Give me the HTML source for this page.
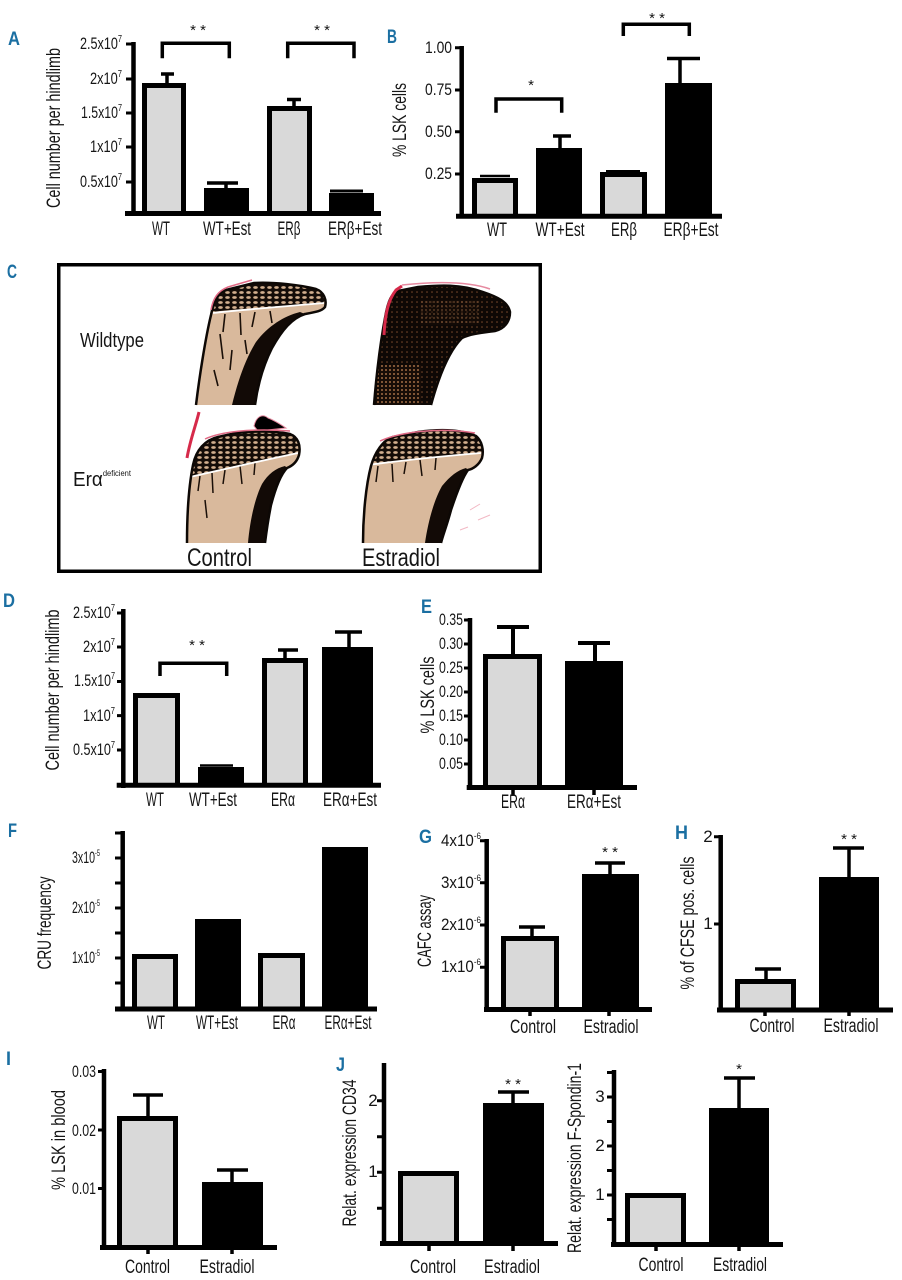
<!DOCTYPE html>
<html><head><meta charset="utf-8"><style>
html,body{margin:0;padding:0;background:#fff;}
svg{display:block}
text{font-family:"Liberation Sans",sans-serif;fill:#151515}
.tk{font-size:17px}
.lb{font-size:19px}
.st{font-size:15px}
.L{font-size:19px;font-weight:bold;fill:#1b6fa2}
</style></head><body>
<svg width="902" height="1280" viewBox="0 0 902 1280" xmlns="http://www.w3.org/2000/svg">
<defs>
<pattern id="trab" width="7" height="5" patternUnits="userSpaceOnUse"><rect width="7" height="5" fill="#140c08"/><ellipse cx="3.5" cy="2.5" rx="2.3" ry="1.4" fill="#d2ae8e"/></pattern>
<pattern id="dark" width="5" height="5" patternUnits="userSpaceOnUse"><rect width="5" height="5" fill="#0e0805"/><circle cx="2" cy="2" r="0.8" fill="#7a4a2c"/></pattern>
<pattern id="brn" width="4" height="4" patternUnits="userSpaceOnUse"><rect width="4" height="4" fill="#160c07"/><circle cx="2" cy="2" r="1" fill="#a06c44"/></pattern>
<clipPath id="cTL"><path d="M196,405 C199,380 205,340 211,315 C214,300 219,292 226,290 L254,283 C275,282 300,285 316,289 C324,292 327,300 325,307 C322,311 316,312 305,314 C292,318 282,330 272,348 C262,368 257,390 255,405 Z"/></clipPath>
<clipPath id="cTR"><path d="M374,405 C376,380 379,350 385,318 C388,300 392,293 398,291 L418,287 C440,285 460,284 483,292 C498,297 508,302 510,312 C510,322 504,329 495,331 C480,333 470,334 462,338 C450,350 440,372 431,405 Z"/></clipPath>
<clipPath id="cBL"><path d="M187,543 C187,515 189,485 193,465 C196,450 205,440 218,437 L236,433 C255,431 275,431 290,434 C298,437 301,445 299,455 C297,462 292,466 287,468 C280,475 275,490 271,505 C268,520 266,535 265,543 Z"/></clipPath>
<clipPath id="cBR"><path d="M363,543 C363,515 366,485 371,466 C375,452 383,440 393,437 L418,432 C440,429 460,429 476,436 C482,441 484,450 482,458 C479,465 473,469 468,470 C462,478 456,495 451,510 C447,525 443,535 441,543 Z"/></clipPath>
</defs>

<!-- ============ PANEL A ============ -->
<text class="L" x="8" y="45" textLength="12" lengthAdjust="spacingAndGlyphs">A</text>
<text class="lb" transform="translate(60,128) rotate(-90)" text-anchor="middle" textLength="160" lengthAdjust="spacingAndGlyphs">Cell number per hindlimb</text>
<g class="tk" text-anchor="end">
<text x="122" y="49" textLength="42" lengthAdjust="spacingAndGlyphs">2.5x10<tspan font-size="10" dy="-7">7</tspan></text>
<text x="122" y="84" textLength="32" lengthAdjust="spacingAndGlyphs">2x10<tspan font-size="10" dy="-7">7</tspan></text>
<text x="122" y="118" textLength="41" lengthAdjust="spacingAndGlyphs">1.5x10<tspan font-size="10" dy="-7">7</tspan></text>
<text x="122" y="152" textLength="32" lengthAdjust="spacingAndGlyphs">1x10<tspan font-size="10" dy="-7">7</tspan></text>
<text x="122" y="187" textLength="42" lengthAdjust="spacingAndGlyphs">0.5x10<tspan font-size="10" dy="-7">7</tspan></text>
</g>
<rect x="142" y="83" width="44" height="128" fill="#000"/><rect x="147" y="88" width="34" height="123" fill="#d9d9d9"/>
<rect x="204" y="188" width="45" height="23" fill="#000"/>
<rect x="267" y="106" width="45" height="105" fill="#000"/><rect x="272" y="111" width="35" height="100" fill="#d9d9d9"/>
<rect x="329" y="193" width="45" height="18" fill="#000"/>
<g stroke="#000" fill="none">
<line x1="133.5" y1="42" x2="133.5" y2="216" stroke-width="4.5"/>
<line x1="125" y1="213.5" x2="381" y2="213.5" stroke-width="5"/>
<path d="M126,44H133M126,79H133M126,113H133M126,147H133M126,182H133" stroke-width="3"/>
<path d="M167,74V84M161,74H174" stroke-width="3.5"/>
<path d="M226,183V189M207,183H238" stroke-width="3.5"/>
<path d="M294,99.5V107M287,99.5H301" stroke-width="3.5"/>
<path d="M330,191H363" stroke-width="3"/>
<path d="M162.3,58.3V43.3H229.3V58.3" stroke-width="3.5"/>
<path d="M287.7,58.3V43.3H354V58.3" stroke-width="3.5"/>
</g>
<text class="st" x="198" y="35" text-anchor="middle">* *</text>
<text class="st" x="322" y="35" text-anchor="middle">* *</text>
<g class="lb" text-anchor="middle">
<text x="161" y="235" textLength="18" lengthAdjust="spacingAndGlyphs">WT</text>
<text x="227" y="235" textLength="48" lengthAdjust="spacingAndGlyphs">WT+Est</text>
<text x="289" y="235" textLength="23" lengthAdjust="spacingAndGlyphs">ERβ</text>
<text x="355" y="235" textLength="54" lengthAdjust="spacingAndGlyphs">ERβ+Est</text>
</g>

<!-- ============ PANEL B ============ -->
<text class="L" x="387" y="43" textLength="10" lengthAdjust="spacingAndGlyphs">B</text>
<text class="lb" transform="translate(406,120) rotate(-90)" text-anchor="middle" textLength="74" lengthAdjust="spacingAndGlyphs">% LSK cells</text>
<g class="tk" text-anchor="end">
<text x="452" y="53" textLength="27" lengthAdjust="spacingAndGlyphs">1.00</text>
<text x="452" y="95" textLength="27" lengthAdjust="spacingAndGlyphs">0.75</text>
<text x="452" y="137" textLength="27" lengthAdjust="spacingAndGlyphs">0.50</text>
<text x="452" y="179" textLength="27" lengthAdjust="spacingAndGlyphs">0.25</text>
</g>
<rect x="472" y="178" width="46" height="36" fill="#000"/><rect x="477" y="183" width="36" height="31" fill="#d9d9d9"/>
<rect x="536" y="148" width="46" height="66" fill="#000"/>
<rect x="600" y="172" width="47" height="42" fill="#000"/><rect x="605" y="177" width="37" height="37" fill="#d9d9d9"/>
<rect x="665" y="83" width="47" height="131" fill="#000"/>
<g stroke="#000" fill="none">
<line x1="461.7" y1="46" x2="461.7" y2="218" stroke-width="4.5"/>
<line x1="456" y1="216.3" x2="722" y2="216.3" stroke-width="5"/>
<path d="M455,47.7H462M455,90H462M455,131.7H462M455,174H462" stroke-width="3"/>
<path d="M480,176H510" stroke-width="2.5"/>
<path d="M560,136V149M553,136H571" stroke-width="3.5"/>
<path d="M606,171H640" stroke-width="2"/>
<path d="M680,58.5V84M667,58.5H700" stroke-width="3.5"/>
<path d="M496,112.7V99H561.7V112.7" stroke-width="3.5"/>
<path d="M623.3,36V24.3H689.3V36" stroke-width="3.5"/>
</g>
<text class="st" x="531" y="90" text-anchor="middle">*</text>
<text class="st" x="657" y="23" text-anchor="middle">* *</text>
<g class="lb" text-anchor="middle">
<text x="497" y="236" textLength="20" lengthAdjust="spacingAndGlyphs">WT</text>
<text x="560" y="236" textLength="49" lengthAdjust="spacingAndGlyphs">WT+Est</text>
<text x="624" y="236" textLength="26" lengthAdjust="spacingAndGlyphs">ERβ</text>
<text x="691" y="236" textLength="55" lengthAdjust="spacingAndGlyphs">ERβ+Est</text>
</g>

<!-- ============ PANEL C ============ -->
<text class="L" x="7" y="278" textLength="10" lengthAdjust="spacingAndGlyphs">C</text>
<rect x="58.75" y="264.75" width="481.5" height="306.5" fill="#fff" stroke="#000" stroke-width="3.5"/>
<text x="80" y="347" font-size="20" textLength="64" lengthAdjust="spacingAndGlyphs">Wildtype</text>
<text x="73" y="486" font-size="20" textLength="58" lengthAdjust="spacingAndGlyphs">Erα<tspan font-size="8" dy="-10">deficient</tspan></text>
<text x="187" y="566" font-size="25" textLength="65" lengthAdjust="spacingAndGlyphs">Control</text>
<text x="362" y="566" font-size="25" textLength="78" lengthAdjust="spacingAndGlyphs">Estradiol</text>

<!-- TL bone -->
<g clip-path="url(#cTL)">
<rect x="185" y="275" width="150" height="135" fill="#d9b99c"/>
<path d="M185,270H335V303L323,303.6C290,305 250,308 200,313Z" fill="url(#trab)"/>
<path d="M305,314 C292,318 282,330 272,348 C262,368 257,390 255,405 L232,405 C238,380 246,358 256,342 C268,326 284,316 300,312 Z" fill="#120a06"/>
<path d="M225,314l-2,18M240,313l1,22M255,312l-3,15M270,311l2,12M220,334l3,25M232,350l-2,20M245,340l2,14M214,370l4,16" stroke="#1a0f08" stroke-width="1.6"/>
<path d="M213,313C250,309 290,306 324,303" stroke="#fff" stroke-width="1.8" fill="none"/>
</g>
<path d="M196,405 C199,380 205,340 211,315 C214,300 219,292 226,290 L254,283 C275,282 300,285 316,289 C324,292 327,300 325,307 C322,311 316,312 305,314 C292,318 282,330 272,348 C262,368 257,390 255,405" fill="none" stroke="#0d0805" stroke-width="2.5"/>
<path d="M211,310C213,298 218,291 228,287L252,280" fill="none" stroke="#e06a85" stroke-width="1.5"/>

<!-- TR bone -->
<g clip-path="url(#cTR)">
<rect x="370" y="280" width="145" height="130" fill="url(#dark)"/>
<rect x="376" y="365" width="45" height="45" fill="url(#brn)"/>
<rect x="420" y="300" width="60" height="25" fill="url(#brn)" opacity="0.5"/>
</g>
<path d="M374,405 C376,380 379,350 385,318 C388,300 392,293 398,291 L418,287 C440,285 460,284 483,292 C498,297 508,302 510,312 C510,322 504,329 495,331 C480,333 470,334 462,338 C450,350 440,372 431,405" fill="none" stroke="#0d0805" stroke-width="2.5"/>
<path d="M384,335C385,315 388,300 396,290L402,286" fill="none" stroke="#d62a4a" stroke-width="3"/>
<path d="M402,285C440,281 470,282 490,289" fill="none" stroke="#e68aa0" stroke-width="1.5"/>

<!-- BL bone -->
<path d="M199,412C196,425 190,440 187,458" fill="none" stroke="#d62a4a" stroke-width="3"/>
<path d="M254,426C256,417 262,413 268,418C274,420 280,424 286,428L258,431Z" fill="#000" stroke="#e68aa0" stroke-width="1"/>
<g clip-path="url(#cBL)">
<rect x="180" y="425" width="130" height="125" fill="#d9b99c"/>
<path d="M180,425H305V453L298,453.2C260,461 225,469 190,477Z" fill="url(#trab)"/>
<path d="M287,468 C280,475 275,490 271,505 C268,520 266,535 265,543 L248,543 C250,520 255,498 262,484 C268,474 276,468 285,466 Z" fill="#120a06"/>
<path d="M200,476l-2,15M212,473l1,20M225,470l-2,14M240,466l2,18M255,463l-1,12M205,500l2,18" stroke="#1a0f08" stroke-width="1.5"/>
<path d="M190,477C225,469 260,461 298,453" stroke="#fff" stroke-width="1.8" fill="none"/>
</g>
<path d="M187,543 C187,515 189,485 193,465 C196,450 205,440 218,437 L236,433 C255,431 275,431 290,434 C298,437 301,445 299,455 C297,462 292,466 287,468 C280,475 275,490 271,505 C268,520 266,535 265,543" fill="none" stroke="#0d0805" stroke-width="2.5"/>
<path d="M205,439C220,432 250,428 290,431" fill="none" stroke="#e06a85" stroke-width="1.5"/>

<!-- BR bone -->
<g clip-path="url(#cBR)">
<rect x="355" y="420" width="135" height="130" fill="#d9b99c"/>
<path d="M355,420H490V452L480,453C445,456 405,460 368,465Z" fill="url(#trab)"/>
<path d="M468,470 C462,478 456,495 451,510 C447,525 443,535 441,543 L425,543 C428,522 434,500 442,486 C450,476 458,470 466,468 Z" fill="#120a06"/>
<path d="M378,466l-2,16M392,464l1,18M406,462l-2,12M420,460l2,16M436,458l-1,12" stroke="#1a0f08" stroke-width="1.5"/>
<path d="M368,465C405,460 445,456 481,453" stroke="#fff" stroke-width="1.8" fill="none"/>
</g>
<path d="M363,543 C363,515 366,485 371,466 C375,452 383,440 393,437 L418,432 C440,429 460,429 476,436 C482,441 484,450 482,458 C479,465 473,469 468,470 C462,478 456,495 451,510 C447,525 443,535 441,543" fill="none" stroke="#0d0805" stroke-width="2.5"/>
<path d="M380,441C400,432 440,427 475,433" fill="none" stroke="#e06a85" stroke-width="1.5"/>
<path d="M470,510l10,-6M478,520l12,-5M460,530l8,-3" stroke="#f2b8c4" stroke-width="1"/>

<!-- ============ PANEL D ============ -->
<text class="L" x="3" y="607" textLength="12" lengthAdjust="spacingAndGlyphs">D</text>
<text class="lb" transform="translate(59,690) rotate(-90)" text-anchor="middle" textLength="161" lengthAdjust="spacingAndGlyphs">Cell number per hindlimb</text>
<g class="tk" text-anchor="end">
<text x="115" y="618" textLength="42" lengthAdjust="spacingAndGlyphs">2.5x10<tspan font-size="10" dy="-7">7</tspan></text>
<text x="115" y="652" textLength="32" lengthAdjust="spacingAndGlyphs">2x10<tspan font-size="10" dy="-7">7</tspan></text>
<text x="115" y="686" textLength="41" lengthAdjust="spacingAndGlyphs">1.5x10<tspan font-size="10" dy="-7">7</tspan></text>
<text x="115" y="721" textLength="32" lengthAdjust="spacingAndGlyphs">1x10<tspan font-size="10" dy="-7">7</tspan></text>
<text x="115" y="755" textLength="42" lengthAdjust="spacingAndGlyphs">0.5x10<tspan font-size="10" dy="-7">7</tspan></text>
</g>
<rect x="133" y="693" width="47" height="90" fill="#000"/><rect x="138" y="698" width="37" height="85" fill="#d9d9d9"/>
<rect x="198" y="767" width="46" height="16" fill="#000"/>
<rect x="262" y="658" width="46" height="125" fill="#000"/><rect x="267" y="663" width="36" height="120" fill="#d9d9d9"/>
<rect x="322" y="647" width="51" height="136" fill="#000"/>
<g stroke="#000" fill="none">
<line x1="123.3" y1="609" x2="123.3" y2="788" stroke-width="4.5"/>
<line x1="116.7" y1="785.3" x2="381" y2="785.3" stroke-width="5"/>
<path d="M117,613H124M117,647H124M117,681.5H124M117,715.6H124M117,750H124" stroke-width="3"/>
<path d="M200,765.5H233" stroke-width="2.5"/>
<path d="M285,650V659M278,650H298" stroke-width="3.5"/>
<path d="M349,632V648M335,632H362" stroke-width="3.5"/>
<path d="M160,676V663.3H226.7V676" stroke-width="3.5"/>
</g>
<text class="st" x="197" y="650" text-anchor="middle">* *</text>
<g class="lb" text-anchor="middle">
<text x="155" y="806" textLength="18" lengthAdjust="spacingAndGlyphs">WT</text>
<text x="213" y="806" textLength="48" lengthAdjust="spacingAndGlyphs">WT+Est</text>
<text x="283" y="806" textLength="24" lengthAdjust="spacingAndGlyphs">ERα</text>
<text x="350" y="806" textLength="54" lengthAdjust="spacingAndGlyphs">ERα+Est</text>
</g>

<!-- ============ PANEL E ============ -->
<text class="L" x="421" y="613" textLength="11" lengthAdjust="spacingAndGlyphs">E</text>
<text class="lb" transform="translate(434,695) rotate(-90)" text-anchor="middle" textLength="77" lengthAdjust="spacingAndGlyphs">% LSK cells</text>
<g class="tk" text-anchor="end">
<text x="463" y="625" textLength="24" lengthAdjust="spacingAndGlyphs">0.35</text>
<text x="463" y="649" textLength="24" lengthAdjust="spacingAndGlyphs">0.30</text>
<text x="463" y="673" textLength="24" lengthAdjust="spacingAndGlyphs">0.25</text>
<text x="463" y="697" textLength="24" lengthAdjust="spacingAndGlyphs">0.20</text>
<text x="463" y="721" textLength="24" lengthAdjust="spacingAndGlyphs">0.15</text>
<text x="463" y="745" textLength="24" lengthAdjust="spacingAndGlyphs">0.10</text>
<text x="463" y="769" textLength="24" lengthAdjust="spacingAndGlyphs">0.05</text>
</g>
<rect x="483" y="654" width="59" height="131" fill="#000"/><rect x="488" y="659" width="49" height="126" fill="#d9d9d9"/>
<rect x="565" y="661" width="58" height="124" fill="#000"/>
<g stroke="#000" fill="none">
<line x1="470" y1="618" x2="470" y2="790" stroke-width="4.5"/>
<line x1="466.7" y1="787.5" x2="637" y2="787.5" stroke-width="5"/>
<path d="M464,620H471M464,644H471M464,668H471M464,692H471M464,716H471M464,740H471M464,764H471" stroke-width="3"/>
<path d="M513,627V655M497,627H529" stroke-width="4"/>
<path d="M595,643V662M578,643H610" stroke-width="4"/>
<path d="M513,789V795M594,789V795" stroke-width="3.5"/>
</g>
<g class="lb" text-anchor="middle">
<text x="513" y="808" textLength="24" lengthAdjust="spacingAndGlyphs">ERα</text>
<text x="594" y="808" textLength="54" lengthAdjust="spacingAndGlyphs">ERα+Est</text>
</g>

<!-- ============ PANEL F ============ -->
<text class="L" x="8" y="837" textLength="9" lengthAdjust="spacingAndGlyphs">F</text>
<text class="lb" transform="translate(51,923) rotate(-90)" text-anchor="middle" textLength="93" lengthAdjust="spacingAndGlyphs">CRU frequency</text>
<g class="tk" text-anchor="end">
<text x="100" y="863" textLength="28" lengthAdjust="spacingAndGlyphs">3x10<tspan font-size="9" dy="-7">-5</tspan></text>
<text x="100" y="913" textLength="28" lengthAdjust="spacingAndGlyphs">2x10<tspan font-size="9" dy="-7">-5</tspan></text>
<text x="100" y="963" textLength="28" lengthAdjust="spacingAndGlyphs">1x10<tspan font-size="9" dy="-7">-5</tspan></text>
</g>
<rect x="132" y="954" width="46" height="53" fill="#000"/><rect x="137" y="959" width="36" height="48" fill="#d9d9d9"/>
<rect x="195" y="919" width="46" height="88" fill="#000"/>
<rect x="258" y="953" width="47" height="54" fill="#000"/><rect x="263" y="958" width="37" height="49" fill="#d9d9d9"/>
<rect x="322" y="847" width="46" height="160" fill="#000"/>
<g stroke="#000" fill="none">
<line x1="122.7" y1="831" x2="122.7" y2="1011" stroke-width="4.5"/>
<line x1="115" y1="1009" x2="377" y2="1009" stroke-width="5"/>
<path d="M115,833H123M115,858H123M115,883H123M115,908H123M115,933H123M115,958H123M115,983H123" stroke-width="3"/>
</g>
<g class="lb" text-anchor="middle">
<text x="156" y="1029" textLength="18" lengthAdjust="spacingAndGlyphs">WT</text>
<text x="217" y="1029" textLength="42" lengthAdjust="spacingAndGlyphs">WT+Est</text>
<text x="284" y="1029" textLength="23" lengthAdjust="spacingAndGlyphs">ERα</text>
<text x="348" y="1029" textLength="47" lengthAdjust="spacingAndGlyphs">ERα+Est</text>
</g>

<!-- ============ PANEL G ============ -->
<text class="L" x="419" y="843" textLength="13" lengthAdjust="spacingAndGlyphs">G</text>
<text class="lb" transform="translate(431,931) rotate(-90)" text-anchor="middle" textLength="72" lengthAdjust="spacingAndGlyphs">CAFC assay</text>
<g class="tk" text-anchor="end">
<text x="481" y="846" textLength="40" lengthAdjust="spacingAndGlyphs">4x10<tspan font-size="9" dy="-7">-6</tspan></text>
<text x="481" y="888" textLength="40" lengthAdjust="spacingAndGlyphs">3x10<tspan font-size="9" dy="-7">-6</tspan></text>
<text x="481" y="930" textLength="40" lengthAdjust="spacingAndGlyphs">2x10<tspan font-size="9" dy="-7">-6</tspan></text>
<text x="481" y="972" textLength="40" lengthAdjust="spacingAndGlyphs">1x10<tspan font-size="9" dy="-7">-6</tspan></text>
</g>
<rect x="501" y="936" width="58" height="71" fill="#000"/><rect x="506" y="941" width="48" height="66" fill="#d9d9d9"/>
<rect x="582" y="874" width="57" height="133" fill="#000"/>
<g stroke="#000" fill="none">
<line x1="486.7" y1="839" x2="486.7" y2="1012" stroke-width="4.5"/>
<line x1="484" y1="1009.5" x2="652" y2="1009.5" stroke-width="5"/>
<path d="M480,840.7H487M480,882.7H487M480,925H487M480,967.3H487" stroke-width="3"/>
<path d="M532,927V937M519,927H545" stroke-width="3.5"/>
<path d="M610,863V875M595,863H625" stroke-width="3.5"/>
<path d="M530,1011V1016M609,1011V1016" stroke-width="3.5"/>
</g>
<text class="st" x="610" y="857" text-anchor="middle">* *</text>
<g class="lb" text-anchor="middle">
<text x="533" y="1033" textLength="46" lengthAdjust="spacingAndGlyphs">Control</text>
<text x="611" y="1033" textLength="55" lengthAdjust="spacingAndGlyphs">Estradiol</text>
</g>

<!-- ============ PANEL H ============ -->
<text class="L" x="675" y="839" textLength="13" lengthAdjust="spacingAndGlyphs">H</text>
<text class="lb" transform="translate(694,923) rotate(-90)" text-anchor="middle" textLength="133" lengthAdjust="spacingAndGlyphs">% of CFSE pos. cells</text>
<g class="tk" text-anchor="middle">
<text x="708" y="842">2</text>
<text x="708" y="929">1</text>
</g>
<rect x="735" y="979" width="61" height="29" fill="#000"/><rect x="740" y="984" width="51" height="24" fill="#d9d9d9"/>
<rect x="819" y="877" width="60" height="131" fill="#000"/>
<g stroke="#000" fill="none">
<line x1="720.7" y1="835" x2="720.7" y2="1012" stroke-width="4.5"/>
<line x1="717" y1="1010" x2="893" y2="1010" stroke-width="5"/>
<path d="M714,836.7H721M714,924H721" stroke-width="3"/>
<path d="M766,969V980M755,969H781" stroke-width="3.5"/>
<path d="M849,848V878M833,848H864" stroke-width="3.5"/>
<path d="M765,1012V1016M849,1012V1016" stroke-width="3.5"/>
</g>
<text class="st" x="849" y="844" text-anchor="middle">* *</text>
<g class="lb" text-anchor="middle">
<text x="772" y="1032" textLength="45" lengthAdjust="spacingAndGlyphs">Control</text>
<text x="851" y="1032" textLength="55" lengthAdjust="spacingAndGlyphs">Estradiol</text>
</g>

<!-- ============ PANEL I ============ -->
<text class="L" x="6" y="1065" font-size="22" textLength="5" lengthAdjust="spacingAndGlyphs">I</text>
<text class="lb" transform="translate(65,1140) rotate(-90)" text-anchor="middle" textLength="100" lengthAdjust="spacingAndGlyphs">% LSK in blood</text>
<g class="tk" text-anchor="end">
<text x="96" y="1077" textLength="24" lengthAdjust="spacingAndGlyphs">0.03</text>
<text x="96" y="1136" textLength="24" lengthAdjust="spacingAndGlyphs">0.02</text>
<text x="96" y="1194" textLength="24" lengthAdjust="spacingAndGlyphs">0.01</text>
</g>
<rect x="117" y="1116" width="61" height="129" fill="#000"/><rect x="122" y="1121" width="51" height="124" fill="#d9d9d9"/>
<rect x="202" y="1182" width="61" height="63" fill="#000"/>
<g stroke="#000" fill="none">
<line x1="104" y1="1069" x2="104" y2="1250" stroke-width="4.5"/>
<line x1="100" y1="1247.5" x2="277" y2="1247.5" stroke-width="5"/>
<path d="M98,1071.5H105M98,1130H105M98,1188.5H105" stroke-width="3"/>
<path d="M148,1095V1117M133,1095H163" stroke-width="3.5"/>
<path d="M232,1170V1183M217,1170H248" stroke-width="3.5"/>
<path d="M148,1249V1254M232,1249V1254" stroke-width="3.5"/>
</g>
<g class="lb" text-anchor="middle">
<text x="147.5" y="1273" textLength="45" lengthAdjust="spacingAndGlyphs">Control</text>
<text x="227" y="1273" textLength="55" lengthAdjust="spacingAndGlyphs">Estradiol</text>
</g>

<!-- ============ PANEL J (CD34) ============ -->
<text class="L" x="336" y="1071" textLength="9" lengthAdjust="spacingAndGlyphs">J</text>
<text class="lb" transform="translate(356,1153) rotate(-90)" text-anchor="middle" textLength="147" lengthAdjust="spacingAndGlyphs">Relat. expression CD34</text>
<g class="tk" text-anchor="middle">
<text x="373" y="1106">2</text>
<text x="373" y="1177">1</text>
</g>
<rect x="398" y="1171" width="61" height="70" fill="#000"/><rect x="403" y="1176" width="51" height="65" fill="#d9d9d9"/>
<rect x="483" y="1103" width="61" height="138" fill="#000"/>
<g stroke="#000" fill="none">
<line x1="384" y1="1063" x2="384" y2="1246" stroke-width="4.5"/>
<line x1="380" y1="1243.5" x2="558" y2="1243.5" stroke-width="5"/>
<path d="M377,1100.7H385M377,1136.7H385M377,1172.3H385M377,1208.3H385" stroke-width="3"/>
<path d="M513,1092V1104M498,1092H529" stroke-width="3.5"/>
<path d="M429,1245V1251M513,1245V1251" stroke-width="3.5"/>
</g>
<text class="st" x="513" y="1089" text-anchor="middle">* *</text>
<g class="lb" text-anchor="middle">
<text x="433" y="1273" textLength="46" lengthAdjust="spacingAndGlyphs">Control</text>
<text x="512" y="1273" textLength="56" lengthAdjust="spacingAndGlyphs">Estradiol</text>
</g>

<!-- ============ PANEL J (F-Spondin-1) ============ -->
<text class="lb" transform="translate(581,1158) rotate(-90)" text-anchor="middle" textLength="190" lengthAdjust="spacingAndGlyphs">Relat. expression F-Spondin-1</text>
<g class="tk" text-anchor="middle">
<text x="600" y="1102">3</text>
<text x="600" y="1151">2</text>
<text x="600" y="1200">1</text>
</g>
<rect x="625" y="1193" width="61" height="49" fill="#000"/><rect x="630" y="1198" width="51" height="44" fill="#d9d9d9"/>
<rect x="709" y="1108" width="60" height="134" fill="#000"/>
<g stroke="#000" fill="none">
<line x1="614" y1="1070" x2="614" y2="1247" stroke-width="4.5"/>
<line x1="611" y1="1244.5" x2="783" y2="1244.5" stroke-width="5"/>
<path d="M607,1072.5H615M607,1097H615M607,1121.5H615M607,1146H615M607,1170.5H615M607,1195H615M607,1219.5H615" stroke-width="3"/>
<path d="M739,1078V1109M724,1078H755" stroke-width="3.5"/>
<path d="M656,1246V1251M739,1246V1251" stroke-width="3.5"/>
</g>
<text class="st" x="739" y="1074" text-anchor="middle">*</text>
<g class="lb" text-anchor="middle">
<text x="661" y="1271" textLength="45" lengthAdjust="spacingAndGlyphs">Control</text>
<text x="740" y="1271" textLength="54" lengthAdjust="spacingAndGlyphs">Estradiol</text>
</g>
</svg>
</body></html>
